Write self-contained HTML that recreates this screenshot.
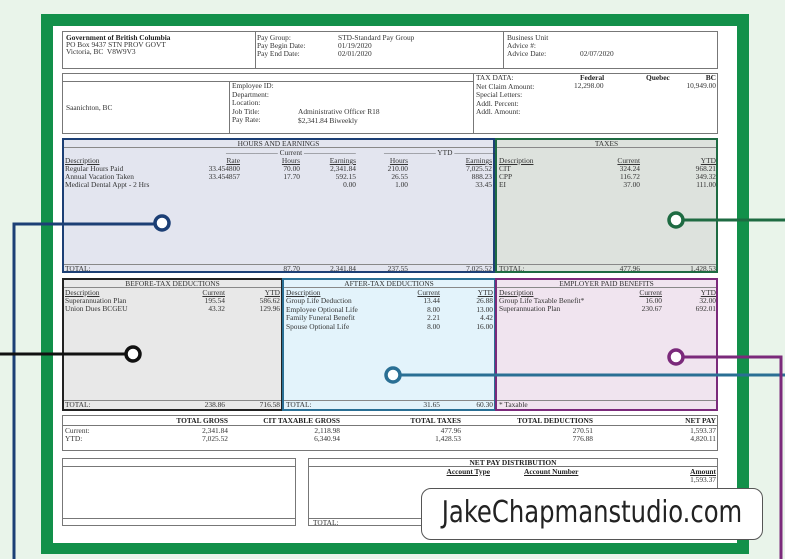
<!DOCTYPE html>
<html><head><meta charset="utf-8"><style>
*{margin:0;padding:0;box-sizing:border-box}
body{width:785px;height:559px;overflow:hidden;background:#e9f4ea;position:relative;font-family:"Liberation Serif",serif;font-size:7.4px;color:#333;line-height:8px}
.a{position:absolute}
.r{position:absolute;text-align:right;white-space:nowrap}
.t{position:absolute;white-space:nowrap}
.b{font-weight:bold;color:#222}
.u{text-decoration:underline}
.box{position:absolute}
.hl{position:absolute;height:1px;background:#888}
</style></head><body>
<div class="a" style="left:41px;top:14px;width:708px;height:540px;background:#12904a"></div>
<div class="a" style="left:53px;top:26px;width:684px;height:517px;background:#fff"></div>

<div class="box" style="left:62px;top:31px;width:656px;height:38px;border:1px solid #777"></div>
<div class="a" style="left:255px;top:31px;width:1px;height:38px;background:#777"></div>
<div class="a" style="left:503px;top:31px;width:1px;height:38px;background:#777"></div>
<div class="t b" style="left:66px;top:34px">Government of British Columbia</div>
<div class="t" style="left:66px;top:41px">PO Box 9437 STN PROV GOVT</div>
<div class="t" style="left:66px;top:48px">Victoria, BC&nbsp; V8W9V3</div>
<div class="t" style="left:257px;top:34px">Pay Group:<br>Pay Begin Date:<br>Pay End Date:</div>
<div class="t" style="left:338px;top:34px">STD-Standard Pay Group<br>01/19/2020<br>02/01/2020</div>
<div class="t" style="left:507px;top:34px">Business Unit<br>Advice #:<br>Advice Date:</div>
<div class="t" style="left:580px;top:50px">02/07/2020</div>

<div class="box" style="left:62px;top:73px;width:656px;height:61px;border:1px solid #777"></div>
<div class="a" style="left:62px;top:81px;width:412px;height:1px;background:#777"></div>
<div class="a" style="left:229px;top:81px;width:1px;height:53px;background:#777"></div>
<div class="a" style="left:473px;top:73px;width:1px;height:61px;background:#777"></div>
<div class="t" style="left:66px;top:104px">Saanichton, BC</div>
<div class="t" style="left:232px;top:82px;line-height:8.6px">Employee ID:<br>Department:<br>Location:<br>Job Title:<br>Pay Rate:</div>
<div class="t" style="left:298px;top:108px;line-height:8.6px">Administrative Officer R18<br>$2,341.84 Biweekly</div>
<div class="t" style="left:476px;top:74px;line-height:8.6px">TAX DATA:<br>Net Claim Amount:<br>Special Letters:<br>Addl. Percent:<br>Addl. Amount:</div>
<div class="t b" style="left:580px;top:74px">Federal</div>
<div class="t b" style="left:646px;top:74px">Quebec</div>
<div class="r b" style="right:69px;top:74px">BC</div>
<div class="t" style="left:574px;top:82px">12,298.00</div>
<div class="r" style="right:69px;top:82px">10,949.00</div>

<div class="box" style="left:62px;top:138px;width:433px;height:135px;border:2px solid #1c3f75;background:#e3e5ef"></div>
<div class="t" style="left:62px;width:433px;text-align:center;top:140px">HOURS AND EARNINGS</div>
<div class="hl" style="left:64px;top:147px;width:429px"></div>
<div class="t" style="left:226px;top:149px">——————— Current ———————</div>
<div class="t" style="left:384px;top:149px">——————— YTD ———————</div>
<div class="t u" style="left:65px;top:157px">Description</div>
<div class="r u" style="right:545px;top:157px">Rate</div>
<div class="r u" style="right:485px;top:157px">Hours</div>
<div class="r u" style="right:429px;top:157px">Earnings</div>
<div class="r u" style="right:377px;top:157px">Hours</div>
<div class="r u" style="right:293px;top:157px">Earnings</div>
<div class="t" style="left:65px;top:165px">Regular Hours Paid<br>Annual Vacation Taken<br>Medical Dental Appt - 2 Hrs</div>
<div class="r" style="right:545px;top:165px">33.454800<br>33.454857</div>
<div class="r" style="right:485px;top:165px">70.00<br>17.70</div>
<div class="r" style="right:429px;top:165px">2,341.84<br>592.15<br>0.00</div>
<div class="r" style="right:377px;top:165px">210.00<br>26.55<br>1.00</div>
<div class="r" style="right:293px;top:165px">7,025.52<br>888.23<br>33.45</div>
<div class="hl" style="left:64px;top:264px;width:429px"></div>
<div class="t" style="left:65px;top:265px">TOTAL:</div>
<div class="r" style="right:485px;top:265px">87.70</div>
<div class="r" style="right:429px;top:265px">2,341.84</div>
<div class="r" style="right:377px;top:265px">237.55</div>
<div class="r" style="right:293px;top:265px">7,025.52</div>

<div class="box" style="left:495px;top:138px;width:223px;height:135px;border:2px solid #1e6b42;background:#dde2dd"></div>
<div class="t" style="left:495px;width:223px;text-align:center;top:140px">TAXES</div>
<div class="hl" style="left:497px;top:147px;width:219px"></div>
<div class="t u" style="left:499px;top:157px">Description</div>
<div class="r u" style="right:145px;top:157px">Current</div>
<div class="r u" style="right:69px;top:157px">YTD</div>
<div class="t" style="left:499px;top:165px">CIT<br>CPP<br>EI</div>
<div class="r" style="right:145px;top:165px">324.24<br>116.72<br>37.00</div>
<div class="r" style="right:69px;top:165px">968.21<br>349.32<br>111.00</div>
<div class="hl" style="left:497px;top:264px;width:219px"></div>
<div class="t" style="left:499px;top:265px">TOTAL:</div>
<div class="r" style="right:145px;top:265px">477.96</div>
<div class="r" style="right:69px;top:265px">1,428.53</div>

<div class="box" style="left:62px;top:278px;width:221px;height:133px;border:2px solid #222;background:#e8e8e8"></div>
<div class="t" style="left:62px;width:221px;text-align:center;top:280px">BEFORE-TAX DEDUCTIONS</div>
<div class="hl" style="left:64px;top:287px;width:217px"></div>
<div class="t u" style="left:65px;top:289px">Description</div>
<div class="r u" style="right:560px;top:289px">Current</div>
<div class="r u" style="right:505px;top:289px">YTD</div>
<div class="t" style="left:65px;top:297px">Superannuation Plan<br>Union Dues BCGEU</div>
<div class="r" style="right:560px;top:297px">195.54<br>43.32</div>
<div class="r" style="right:505px;top:297px">586.62<br>129.96</div>
<div class="hl" style="left:64px;top:400px;width:217px"></div>
<div class="t" style="left:65px;top:401px">TOTAL:</div>
<div class="r" style="right:560px;top:401px">238.86</div>
<div class="r" style="right:505px;top:401px">716.58</div>

<div class="box" style="left:282px;top:278px;width:214px;height:133px;border:2px solid #2a6f94;background:#e3f3fb"></div>
<div class="t" style="left:282px;width:214px;text-align:center;top:280px">AFTER-TAX DEDUCTIONS</div>
<div class="hl" style="left:284px;top:287px;width:210px"></div>
<div class="t u" style="left:286px;top:289px">Description</div>
<div class="r u" style="right:345px;top:289px">Current</div>
<div class="r u" style="right:292px;top:289px">YTD</div>
<div class="t" style="left:286px;top:297px;line-height:8.6px">Group Life Deduction<br>Employee Optional Life<br>Family Funeral Benefit<br>Spouse Optional Life</div>
<div class="r" style="right:345px;top:297px;line-height:8.6px">13.44<br>8.00<br>2.21<br>8.00</div>
<div class="r" style="right:292px;top:297px;line-height:8.6px">26.88<br>13.00<br>4.42<br>16.00</div>
<div class="hl" style="left:284px;top:400px;width:210px"></div>
<div class="t" style="left:286px;top:401px">TOTAL:</div>
<div class="r" style="right:345px;top:401px">31.65</div>
<div class="r" style="right:292px;top:401px">60.30</div>

<div class="box" style="left:495px;top:278px;width:223px;height:133px;border:2px solid #7b2a7b;background:#f0e4ef"></div>
<div class="t" style="left:495px;width:223px;text-align:center;top:280px">EMPLOYER PAID BENEFITS</div>
<div class="hl" style="left:497px;top:287px;width:219px"></div>
<div class="t u" style="left:499px;top:289px">Description</div>
<div class="r u" style="right:123px;top:289px">Current</div>
<div class="r u" style="right:69px;top:289px">YTD</div>
<div class="t" style="left:499px;top:297px">Group Life Taxable Benefit*<br>Superannuation Plan</div>
<div class="r" style="right:123px;top:297px">16.00<br>230.67</div>
<div class="r" style="right:69px;top:297px">32.00<br>692.01</div>
<div class="hl" style="left:497px;top:400px;width:219px"></div>
<div class="t" style="left:499px;top:401px">* Taxable</div>

<div class="box" style="left:62px;top:415px;width:656px;height:36px;border:1px solid #777"></div>
<div class="a" style="left:62px;top:425px;width:656px;height:1px;background:#777"></div>
<div class="r b" style="right:557px;top:417px">TOTAL GROSS</div>
<div class="r b" style="right:445px;top:417px">CIT TAXABLE GROSS</div>
<div class="r b" style="right:324px;top:417px">TOTAL TAXES</div>
<div class="r b" style="right:192px;top:417px">TOTAL DEDUCTIONS</div>
<div class="r b" style="right:69px;top:417px">NET PAY</div>
<div class="t" style="left:65px;top:427px">Current:<br>YTD:</div>
<div class="r" style="right:557px;top:427px">2,341.84<br>7,025.52</div>
<div class="r" style="right:445px;top:427px">2,118.98<br>6,340.94</div>
<div class="r" style="right:324px;top:427px">477.96<br>1,428.53</div>
<div class="r" style="right:192px;top:427px">270.51<br>776.88</div>
<div class="r" style="right:69px;top:427px">1,593.37<br>4,820.11</div>

<div class="box" style="left:62px;top:458px;width:234px;height:68px;border:1px solid #777"></div>
<div class="a" style="left:62px;top:466px;width:234px;height:1px;background:#777"></div>
<div class="a" style="left:62px;top:518px;width:234px;height:1px;background:#777"></div>
<div class="box" style="left:308px;top:458px;width:410px;height:68px;border:1px solid #777"></div>
<div class="a" style="left:308px;top:466px;width:410px;height:1px;background:#777"></div>
<div class="a" style="left:308px;top:518px;width:410px;height:1px;background:#777"></div>
<div class="t b" style="left:308px;width:410px;text-align:center;top:459px">NET PAY DISTRIBUTION</div>
<div class="r b u" style="right:295px;top:468px">Account Type</div>
<div class="t b u" style="left:524px;top:468px">Account Number</div>
<div class="r b u" style="right:69px;top:468px">Amount</div>
<div class="r" style="right:69px;top:476px">1,593.37</div>
<div class="t" style="left:313px;top:519px">TOTAL:</div>

<svg class="a" style="left:0;top:0" width="785" height="559">
<g fill="none" stroke-width="3">
<polyline points="155,224 14,224 14,559" stroke="#1c3f75"/>
<polyline points="683,220 785,220" stroke="#1e6b42"/>
<polyline points="126,354 0,354" stroke="#111"/>
<polyline points="400,375 785,375" stroke="#2a6f94"/>
<polyline points="683,357 781,357 781,559" stroke="#7b2a7b"/>
</g>
<g fill="#fff" stroke-width="3.5">
<circle cx="162" cy="223" r="7" stroke="#1c3f75"/>
<circle cx="676" cy="220" r="7" stroke="#1e6b42"/>
<circle cx="133" cy="354" r="7" stroke="#111"/>
<circle cx="393" cy="375" r="7" stroke="#2a6f94"/>
<circle cx="676" cy="357" r="7" stroke="#7b2a7b"/>
</g>
</svg>

<div class="a" style="left:421px;top:488px;width:342px;height:52px;background:#fff;border:1.5px solid #555;border-radius:10px"></div>
<div class="t" style="left:421px;width:342px;text-align:center;top:496px;line-height:34px;font-family:'Liberation Sans Narrow','DejaVu Sans Condensed','Liberation Sans',sans-serif;font-size:30px;color:#222;transform:scaleX(0.9);transform-origin:center">JakeChapmanstudio.com</div>
</body></html>
